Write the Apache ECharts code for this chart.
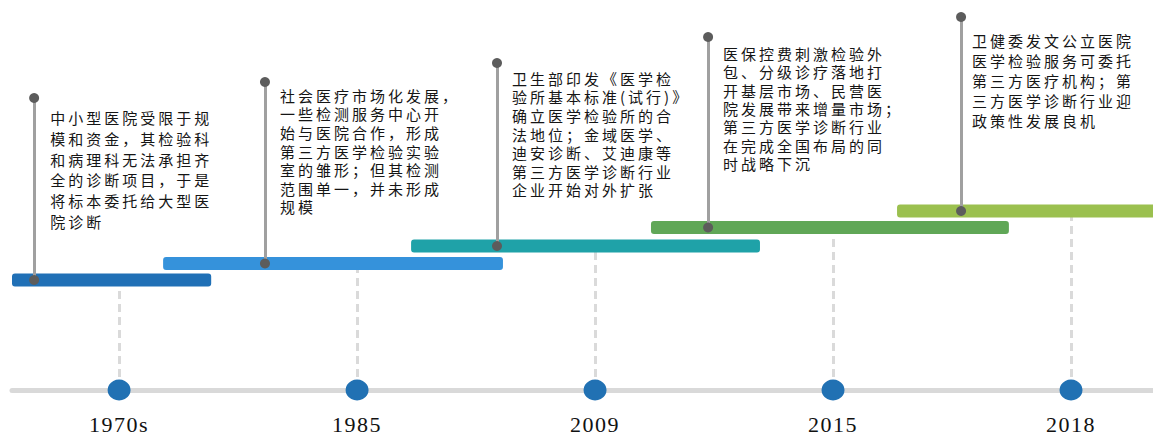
<!DOCTYPE html>
<html>
<head>
<meta charset="utf-8">
<script src="https://cdn.jsdelivr.net/npm/echarts@6/dist/echarts.min.js"></script>
<style>
  html, body { margin: 0; padding: 0; background: #ffffff; }
  #chart { width: 1153px; height: 434px; }
  #chart text[style*="Noto Sans CJK"] { letter-spacing: 3px; }
  #chart text[style*="Liberation Serif"] { letter-spacing: 1.5px; }
</style>
</head>
<body>
<div id="chart"></div>
<script>
// ---- data ----
const years = ['1970s', '1985', '2009', '2015', '2018'];
// each phase bar: start / end position on the era axis, and its level above the base line
const barStart = [-0.45, 0.185, 1.227, 2.235, 3.269];
const barEnd = [0.387, 1.613, 2.693, 3.739, 4.6];
const barLevel = [110, 126.5, 144, 162.5, 179];
// event pins: position on the era axis, and level of the pin head
const pinAt = [-0.357, 0.613, 1.588, 2.475, 3.538];
const pinTop = [292, 308, 327, 353, 373];
const events = [
  '中小型医院受限于规\n模和资金，其检验科\n和病理科无法承担齐\n全的诊断项目，于是\n将标本委托给大型医\n院诊断',
  '社会医疗市场化发展，\n一些检测服务中心开\n始与医院合作，形成\n第三方医学检验实验\n室的雏形；但其检测\n范围单一，并未形成\n规模',
  '卫生部印发《医学检\n验所基本标准(试行)》\n确立医学检验所的合\n法地位；金域医学、\n迪安诊断、艾迪康等\n第三方医学诊断行业\n企业开始对外扩张',
  '医保控费刺激检验外\n包、分级诊疗落地打\n开基层市场、民营医\n院发展带来增量市场；\n第三方医学诊断行业\n在完成全国布局的同\n时战略下沉',
  '卫健委发文公立医院\n医学检验服务可委托\n第三方医疗机构；第\n三方医学诊断行业迎\n政策性发展良机'
];

// ---- styles / layout ----
const barColors = ['#2070b6', '#3592db', '#1fa2a8', '#60a757', '#9bc04f'];
const labelOffset = [[21, 14.5], [20, 9], [20, 11], [20, 12.5], [16, 18]];
const labelLineHeight = [20.7, 18.6, 18.6, 18.3, 20];

const chart = echarts.init(document.getElementById('chart'), null, { renderer: 'svg' });

const dashData = years.map((y, i) => ({ coords: [[i, 0], [i, barLevel[i]]] }));
const pinData = pinAt.map((x, i) => ({ coords: [[x, barLevel[i]], [x, pinTop[i]]] }));
const barData = barStart.map((s, i) => [s, barEnd[i], barLevel[i]]);
const pinBottomData = pinAt.map((x, i) => [x, barLevel[i]]);
const pinTopData = pinAt.map((x, i) => ({
  value: [x, pinTop[i]],
  label: { position: labelOffset[i], lineHeight: labelLineHeight[i] }
}));
const eraData = years.map((y, i) => [i, 0]);

const option = {
  animation: false,
  backgroundColor: '#ffffff',
  grid: { left: 12, right: -37, top: 0, bottom: 44, containLabel: false, outerBoundsMode: 'none' },
  xAxis: {
    type: 'value',
    min: -0.45,
    max: 4.5,
    splitLine: { show: false },
    axisTick: { show: false },
    axisLine: { show: true, onZero: false, lineStyle: { color: '#d9d9d9', width: 5 } },
    axisLabel: {
      customValues: [0, 1, 2, 3, 4],
      formatter: v => years[Math.round(v)],
      margin: 26,
      lineHeight: 16,
      fontFamily: 'Liberation Serif',
      fontSize: 22,
      color: '#111111'
    }
  },
  yAxis: {
    type: 'value',
    min: 0,
    max: 390,
    show: false,
    splitLine: { show: false }
  },
  series: [
    {
      type: 'lines',
      coordinateSystem: 'cartesian2d',
      z: 1,
      silent: true,
      lineStyle: { color: '#dadada', width: 3, type: [8, 5], opacity: 1 },
      data: dashData
    },
    {
      type: 'custom',
      z: 2,
      encode: { x: [0, 1], y: 2 },
      renderItem: function (params, api) {
        const a = api.coord([api.value(0), api.value(2)]);
        const b = api.coord([api.value(1), api.value(2)]);
        return {
          type: 'rect',
          shape: { x: a[0], y: a[1] - 6.5, width: b[0] - a[0], height: 13, r: 3 },
          style: { fill: barColors[params.dataIndex] }
        };
      },
      data: barData
    },
    {
      type: 'lines',
      coordinateSystem: 'cartesian2d',
      z: 3,
      silent: true,
      lineStyle: { color: '#a0a0a0', width: 3, type: 'solid', opacity: 1 },
      data: pinData
    },
    {
      type: 'scatter',
      z: 4,
      symbol: 'circle',
      symbolSize: 10,
      itemStyle: { color: '#5c5c5c', opacity: 1 },
      data: pinBottomData
    },
    {
      type: 'scatter',
      z: 4,
      symbol: 'circle',
      symbolSize: 10,
      itemStyle: { color: '#5c5c5c', opacity: 1 },
      label: {
        show: true,
        formatter: p => events[p.dataIndex],
        align: 'left',
        verticalAlign: 'top',
        fontFamily: 'Noto Sans CJK SC',
        fontSize: 15,
        color: '#151515'
      },
      data: pinTopData
    },
    {
      type: 'scatter',
      z: 5,
      symbol: 'circle',
      symbolSize: [23, 21],
      itemStyle: { color: '#2171b3', opacity: 1 },
      data: eraData
    }
  ]
};
chart.setOption(option);
</script>
</body>
</html>
